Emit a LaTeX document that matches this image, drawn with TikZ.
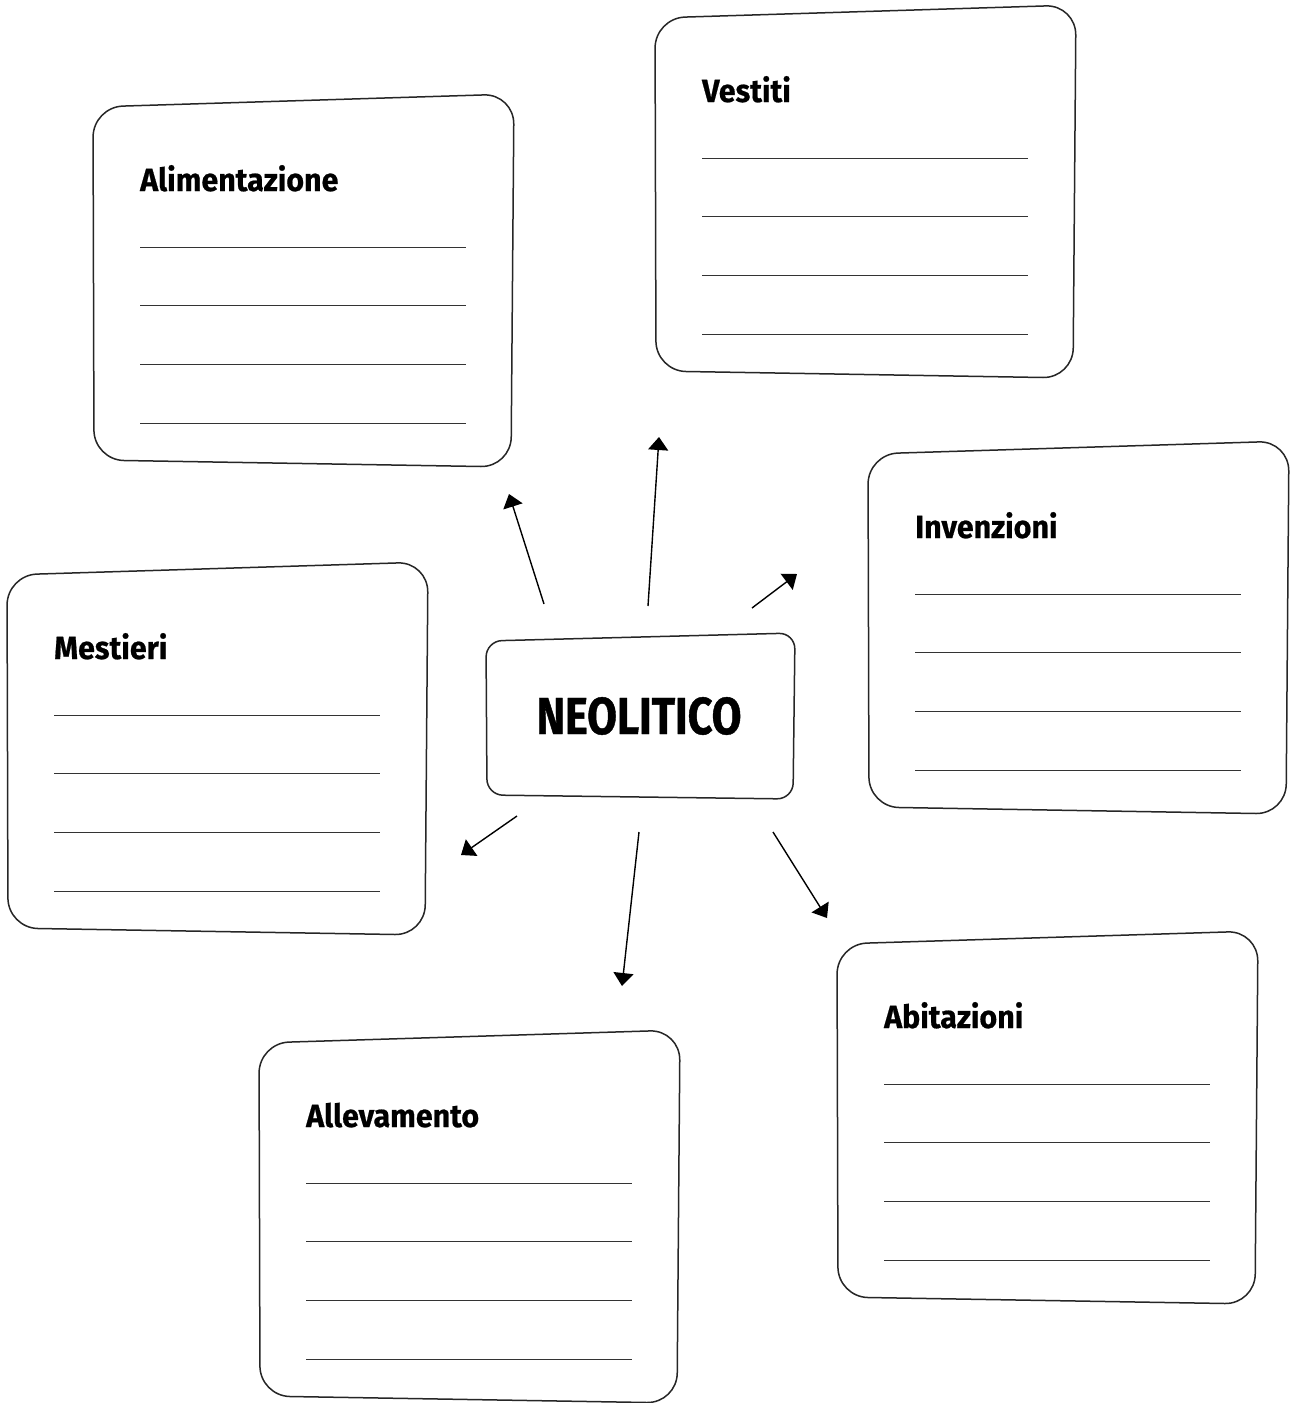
\documentclass[tikz,border=0pt]{standalone}
\usepackage{fontspec}
\usetikzlibrary{arrows.meta}
\newfontfamily\titlefont[FakeStretch=0.95,FakeBold=0.6]{Fira Sans}
\newfontfamily\bigfont[FakeStretch=0.83,FakeBold=0.8]{Fira Sans}
\tikzset{
  card/.style={draw=black!85, line width=1.5pt, rounded corners=30pt},
  centercard/.style={draw=black!85, line width=1.5pt, rounded corners=16pt},
  writeline/.style={draw=black!80, line width=0.9pt},
  cardtitle/.style={anchor=base west, inner sep=0pt, font=\titlefont\bfseries\fontsize{32}{36}\selectfont},
  maintitle/.style={inner sep=0pt, font=\bigfont\bfseries\fontsize{52}{56}\selectfont},
  link/.style={draw=black, line width=1.4pt, -{Triangle[length=13pt,width=20pt]}},
}
\newcommand{\mycard}[3]{%
  \begin{scope}[shift={#2}]
    \draw[card] (-47,-140) -- (374,-153) -- (371,220) -- (-46,213) -- cycle;
    \node[cardtitle] (#1) at (0,-56) {#3};
    \foreach \k in {0,1,2,3} \draw[writeline] (0,{58.7*\k}) -- (326,{58.7*\k});
  \end{scope}}
\begin{document}
\begin{tikzpicture}[x=1pt,y=-1pt]
  \useasboundingbox (0,0) rectangle (1292,1403);
  \fill[white] (0,0) rectangle (1292,1403);

  \mycard{alim}{(140,247)}{Alimentazione}
  \mycard{vest}{(702,158)}{Vestiti}
  \mycard{inv}{(915,594)}{Invenzioni}
  \mycard{mest}{(54,715)}{Mestieri}
  \mycard{abit}{(884,1084)}{Abitazioni}
  \mycard{allev}{(306,1183)}{Allevamento}

  \draw[centercard] (486,641) -- (795,633) -- (793,799) -- (487,795) -- cycle;
  \node[maintitle] (neo) at (639,716) {NEOLITICO};

  \coordinate (s1) at (544,604); \coordinate (e1) at (509,494);
  \coordinate (s2) at (648,606); \coordinate (e2) at (659,437);
  \coordinate (s3) at (752,608); \coordinate (e3) at (797,574);
  \coordinate (s4) at (517,816); \coordinate (e4) at (461,855);
  \coordinate (s5) at (639,832); \coordinate (e5) at (622,986);
  \coordinate (s6) at (773,832); \coordinate (e6) at (827,918);
  \foreach \i in {1,...,6} \draw[link] (s\i) -- (e\i);
\end{tikzpicture}
\end{document}
